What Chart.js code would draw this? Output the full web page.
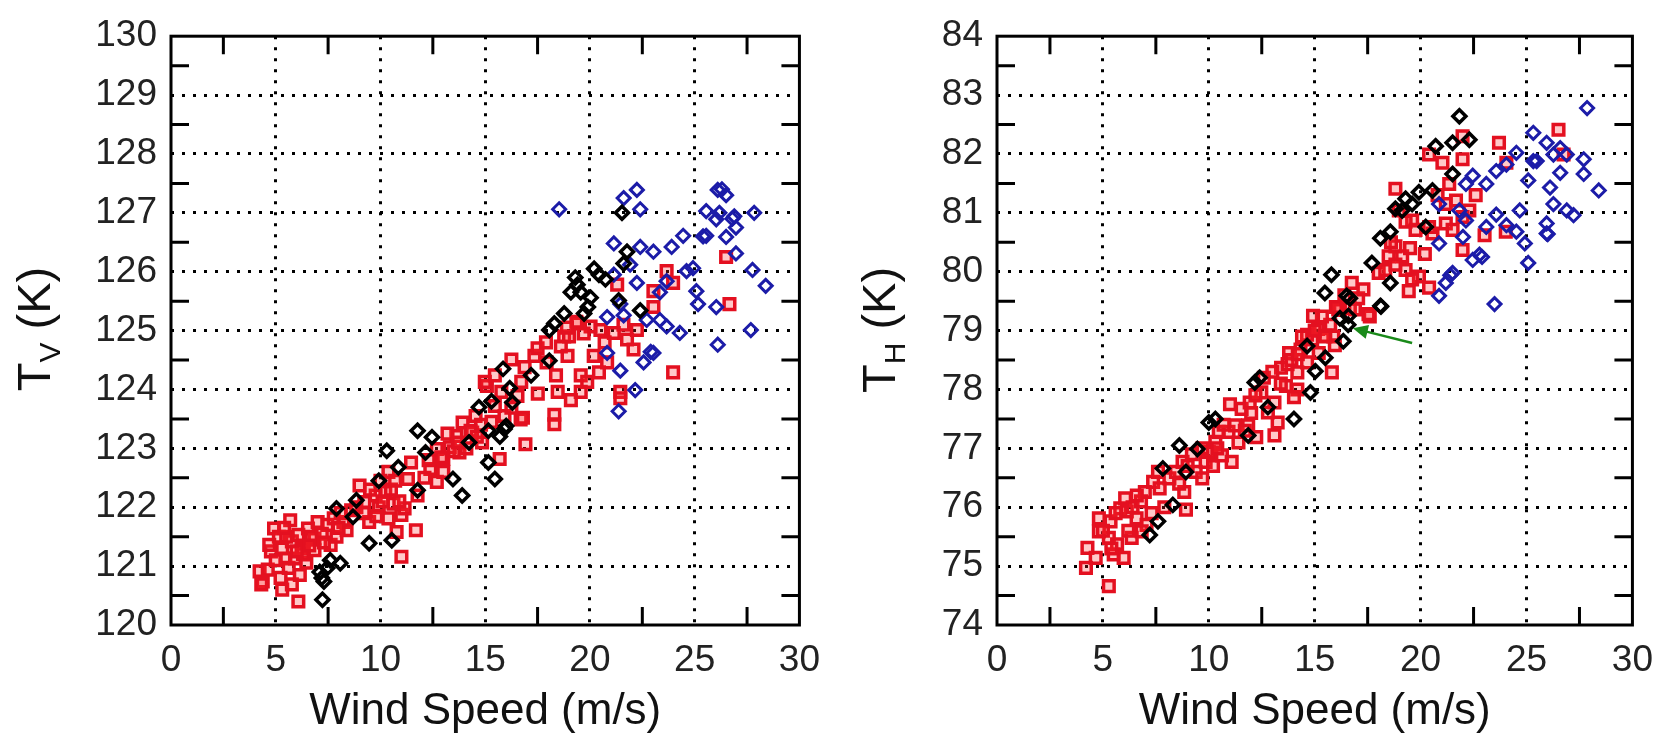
<!DOCTYPE html>
<html>
<head>
<meta charset="utf-8">
<title>Brightness temperature vs wind speed</title>
<script src="https://cdn.jsdelivr.net/npm/chart.js@4.4.0/dist/chart.umd.min.js"></script>
<style>
  html, body { margin:0; padding:0; background:#fff; }
  #wrap { position:relative; width:1667px; height:734px; overflow:hidden; }
  canvas { position:absolute; top:0; }
  #c1 { left:0; }
  #c2 { left:834px; }
  .ytitle { position:absolute; width:220px; height:60px; line-height:60px; text-align:center;
            font-family:"Liberation Sans", Arial, sans-serif; font-size:47px; color:#111;
            transform:rotate(-90deg); white-space:nowrap; }
  .ytitle sub { font-size:30px; vertical-align:-10px; line-height:0; }
</style>
</head>
<body>
<div id="wrap">
  <canvas id="c1" width="834" height="734"></canvas>
  <canvas id="c2" width="833" height="734"></canvas>
  <div class="ytitle" style="left:-76px; top:299px;">T<sub>V</sub> (K)</div>
  <div class="ytitle" style="left:769px; top:300px;">T<sub>H</sub> (K)</div>
</div>
<script>
// ---------- AXES ----------
const xTicks  = [0, 5, 10, 15, 20, 25, 30];
const xMarks  = [2.5, 7.5, 12.5, 17.5, 22.5, 27.5];
const tvTicks = [120, 121, 122, 123, 124, 125, 126, 127, 128, 129, 130];
const tvMarks = [120.5, 121.5, 122.5, 123.5, 124.5, 125.5, 126.5, 127.5, 128.5, 129.5];
const thTicks = [74, 75, 76, 77, 78, 79, 80, 81, 82, 83, 84];
const thMarks = [74.5, 75.5, 76.5, 77.5, 78.5, 79.5, 80.5, 81.5, 82.5, 83.5];

// ---------- LEFT PANEL (T_V) ----------
const tvBlack = [[7.23,120.43],[7.2,120.8],[7.3,120.74],[7.46,120.97],[8.08,121.05],[7.6,121.1],[7.1,120.9],
  [7.9,121.98],[9.46,121.39],[10.54,121.44],[10.3,122.96],[10.85,122.68],[11.77,123.3],[12.46,123.19],
  [12.15,122.93],[13.9,122.2],[15.15,122.76],[15.46,122.48],[15.92,123.33],[15.7,123.2],[14.7,123.7],
  [16.3,123.78],[9.92,122.45],[8.85,122.12],[8.69,121.84],[11.77,122.29],[13.46,122.48],[15.15,123.3],
  [14.23,123.1],[21.53,127.0],[21.77,126.34],[21.61,126.14],[20.43,125.95],[20.74,125.87],[19.4,125.78],
  [19.56,125.65],[20.03,125.56],[19.09,125.65],[18.77,125.29],[18.3,125.12],[18.06,125.01],[21.37,125.51],
  [22.4,125.34],[19.72,125.29],[18.06,124.49],[15.85,124.35],[17.19,124.24],[16.17,124.02],[15.3,123.8],
  [16.0,123.38],[19.3,125.9],[20.2,126.05],[19.9,125.4]];
const tvRed = [[4.23,120.91],[4.38,120.74],[4.31,120.69],[4.62,120.94],[4.92,121.64],[5.15,121.5],[5.69,121.78],
  [4.77,121.25],[5.31,121.3],[5.46,121.13],[5.77,121.42],[6.08,121.53],[6.23,121.3],[6.54,121.64],[6.85,121.47],
  [7.0,121.75],[7.46,121.7],[7.77,121.81],[8.23,121.75],[8.38,121.61],[5.62,120.97],[5.23,120.8],[5.31,120.6],
  [5.77,120.69],[6.08,120.4],[6.15,120.85],[5.92,121.13],[6.85,121.27],[7.62,121.36],[6.46,121.06],[4.69,121.36],
  [8.85,122.0],[9.23,122.09],[9.0,122.37],[9.77,122.2],[10.23,122.26],[10.62,122.06],[11.0,121.87],[11.15,121.98],
  [10.77,121.58],[11.69,121.61],[11.0,121.16],[10.38,122.6],[9.92,122.0],[11.31,122.48],[11.46,122.76],[11.77,122.2],
  [9.46,121.75],[10.38,121.81],[12.38,122.65],[12.69,122.43],[13.0,122.82],[13.31,123.02],[13.62,123.21],
  [13.92,123.44],[14.38,123.27],[14.54,123.55],[14.85,123.1],[15.46,123.72],[15.92,123.55],[16.69,123.49],
  [16.92,123.07],[15.69,122.82],[13.77,122.93],[13.0,122.6],[12.69,122.99],[16.54,123.89],[15.08,124.06],
  [16.25,124.51],[16.88,124.38],[17.35,124.57],[15.46,124.24],[14.98,124.13],[16.72,124.13],[17.51,123.93],
  [18.38,124.24],[18.46,123.96],[19.56,124.24],[19.87,124.13],[19.56,123.96],[19.09,123.82],[21.45,123.96],
  [21.45,123.85],[18.3,123.57],[18.3,123.41],[16.8,123.52],[18.61,124.73],[18.77,124.9],[19.4,125.12],
  [20.03,125.07],[20.5,125.01],[21.14,124.96],[21.77,124.85],[22.08,124.68],[22.24,125.01],[23.03,125.4],
  [20.18,124.57],[20.43,124.29],[20.82,124.46],[23.97,124.29],[19.35,125.15],[23.66,126.01],[23.03,125.67],
  [23.97,125.81],[26.5,126.25],[26.66,125.45],[21.3,125.78],[17.93,124.46],[18.93,124.57],[15.77,123.96],
  [16.25,123.69],[5.0,121.1],[5.5,121.5],[6.3,121.2],[6.7,121.5],[7.2,121.55],[7.9,121.5],[8.1,121.9],
  [8.6,121.95],[9.5,122.3],[10.0,122.45],[10.5,122.3],[10.9,122.1],[9.8,121.85],[12.1,122.5],[12.9,122.85],
  [13.5,122.95],[14.1,123.0],[14.3,123.3],[13.2,123.25],[14.8,123.4],[17.5,124.7],[19.0,124.9],[20.7,124.8],
  [21.6,125.1],[5.4,121.65],[6.0,121.25],[6.6,121.35],[7.3,121.4],[8.0,121.65],[9.2,121.9],[10.1,122.1],
  [10.7,122.45],[12.3,122.8],[13.7,123.1],[14.6,123.2],[15.3,123.45],[17.9,124.8],[18.9,125.05],[19.7,124.95]];
const tvBlue = [[18.53,127.06],[21.61,127.25],[22.24,127.39],[22.4,127.06],[26.1,127.39],[26.5,127.3],[25.55,127.03],
  [26.03,126.89],[26.18,127.0],[26.89,126.94],[26.97,126.75],[26.5,126.59],[27.84,127.0],[24.45,126.61],
  [25.55,126.61],[21.14,126.48],[22.4,126.42],[23.03,126.34],[23.9,126.42],[26.97,126.31],[24.61,126.01],
  [24.92,126.06],[27.76,126.03],[28.39,125.76],[25.08,125.67],[25.16,125.45],[26.03,125.4],[22.24,125.81],
  [23.34,125.65],[23.66,125.84],[21.61,125.26],[20.82,125.23],[21.45,125.45],[22.71,125.18],[23.34,125.18],
  [24.29,124.96],[23.66,125.07],[27.68,125.01],[26.1,124.76],[20.82,124.62],[21.45,124.32],[22.56,124.46],
  [23.03,124.62],[22.16,123.99],[21.37,123.63],[21.92,126.12],[21.14,125.95],[26.3,127.4],[26.8,126.9],
  [22.9,124.64],[25.4,126.6]];

// ---------- RIGHT PANEL (T_H) ----------
const thBlack = [[7.21,75.53],[7.6,75.76],[7.83,76.66],[8.3,76.04],[8.61,77.05],[9.46,76.99],[10.0,77.44],
  [10.31,77.5],[12.17,78.12],[12.4,78.2],[11.86,77.22],[14.02,77.5],[14.8,77.95],[15.03,78.31],[15.5,78.54],
  [16.35,78.82],[16.58,79.1],[16.19,79.21],[16.66,79.55],[18.13,79.41],[8.92,76.6],[12.79,77.7],[14.64,78.74],
  [21.83,82.64],[20.71,82.13],[21.51,82.19],[22.3,82.24],[21.51,81.66],[19.92,81.35],[20.56,81.38],[19.29,81.24],
  [18.81,81.07],[18.57,80.68],[18.1,80.57],[17.7,80.15],[18.57,79.81],[15.79,79.95],[16.51,79.59],[18.1,79.42],
  [16.59,79.25],[15.48,79.64],[20.24,80.76],[19.6,81.15],[19.13,81.04]];
const thRed = [[4.27,75.31],[4.2,74.97],[4.66,75.14],[5.28,74.66],[4.81,75.81],[4.81,75.59],[5.28,75.48],
  [5.67,75.37],[5.36,75.76],[5.82,75.98],[6.05,76.15],[6.13,75.93],[6.59,75.81],[7.06,75.7],[5.51,75.2],
  [5.98,75.14],[6.36,75.48],[6.83,75.59],[6.98,76.26],[7.37,76.43],[7.68,76.32],[8.14,76.49],[8.45,76.6],
  [8.84,76.26],[8.92,75.96],[8.76,76.77],[9.38,76.6],[9.85,76.77],[10.0,76.94],[10.31,77.11],[10.62,76.88],
  [11.08,76.77],[10.93,77.28],[11.24,77.39],[11.86,77.39],[12.24,77.19],[11.0,77.75],[11.55,77.67],[11.93,77.78],
  [12.48,77.95],[12.79,77.61],[13.1,77.78],[13.25,77.44],[13.1,77.22],[13.64,78.06],[13.41,78.37],[13.72,78.43],
  [14.18,78.29],[14.64,78.46],[14.18,78.0],[14.02,77.87],[13.79,78.62],[14.33,78.68],[14.88,78.85],[14.64,78.93],
  [15.26,79.04],[15.73,79.1],[15.88,78.9],[15.34,79.24],[16.19,79.35],[16.66,79.38],[17.05,79.55],[17.6,79.24],
  [15.81,78.29],[15.19,78.62],[10.47,77.28],[9.69,76.49],[26.51,82.41],[23.7,82.19],[21.98,82.3],[21.98,81.91],
  [21.03,81.85],[20.4,81.99],[18.81,81.41],[24.05,81.85],[21.35,81.49],[21.19,81.15],[21.67,81.21],[22.3,81.04],
  [21.98,80.93],[21.19,80.82],[21.51,80.71],[20.56,80.65],[20.4,80.76],[19.76,80.71],[19.6,80.87],[19.29,80.85],
  [18.97,81.04],[23.02,80.62],[24.02,80.68],[26.75,81.99],[21.98,80.37],[18.81,80.43],[18.49,80.26],[19.13,80.26],
  [18.81,80.12],[19.29,80.03],[19.92,79.92],[18.02,79.98],[18.33,80.03],[19.6,79.87],[19.44,79.67],[20.4,79.73],
  [16.75,79.81],[17.3,79.7],[17.54,79.28],[16.11,79.36],[16.9,79.36],[15.16,79.03],[14.92,79.25],[15.48,78.91],
  [15.95,78.75],[6.4,76.0],[6.8,76.1],[7.3,75.9],[7.9,76.0],[8.6,76.4],[9.2,76.9],[9.7,77.0],[10.2,76.7],
  [10.7,77.4],[11.4,77.1],[12.0,77.6],[12.6,78.2],[13.4,78.1],[13.9,78.5],[14.4,78.9],[15.0,79.0],[15.5,78.9],
  [16.0,79.4],[16.4,79.6],[5.0,75.6],[5.6,75.9],[6.2,75.6],[5.4,75.3],[6.6,76.2],[7.6,76.6],[9.0,76.7],
  [10.4,77.0],[11.7,77.3],[12.2,77.9],[13.0,78.3],[14.2,78.6],[18.6,80.5],[19.5,80.4],[20.2,80.3],[20.8,81.3],
  [22.6,81.3]];
const thBlue = [[27.86,82.78],[25.32,82.36],[25.95,82.19],[26.59,82.1],[26.27,81.99],[25.48,81.88],[26.9,81.99],
  [24.52,82.02],[24.05,81.82],[27.7,81.91],[27.7,81.66],[28.41,81.38],[26.59,81.68],[25.08,81.55],[26.11,81.43],
  [26.27,81.15],[26.9,81.04],[27.22,80.96],[25.95,80.82],[25.95,80.65],[24.92,80.48],[25.08,80.15],[23.57,81.71],
  [23.1,81.49],[22.46,81.63],[22.14,81.49],[23.57,80.97],[24.05,80.79],[24.52,80.68],[23.1,80.76],[22.0,80.59],
  [22.78,80.29],[22.46,80.2],[21.51,79.98],[21.19,79.81],[20.87,79.59],[23.49,79.45],[21.83,81.04],[22.14,80.87],
  [20.87,81.15],[20.87,80.48],[24.68,81.04],[25.32,81.88],[26.0,80.64],[22.9,80.25],[21.4,79.94]];

// green arrow (tail -> tip), right panel
const arrowFrom = [19.6, 78.79];
const arrowTo   = [16.8, 79.04];

// ---------- HELPERS ----------
const FONT = '"Liberation Sans", Arial, sans-serif';
Chart.defaults.font.family = FONT;

const toPts = arr => arr.map(p => ({x: p[0], y: p[1]}));

const framePlugin = {
  id: 'frame',
  afterDraw(chart, args, opts) {
    const {ctx, chartArea: a} = chart;
    const x = chart.scales.x, y = chart.scales.y;
    ctx.save();
    ctx.strokeStyle = '#000';
    ctx.lineWidth = 3;
    ctx.strokeRect(a.left, a.top, a.right - a.left, a.bottom - a.top);
    ctx.beginPath();
    xMarks.forEach(v => {
      const px = x.getPixelForValue(v);
      ctx.moveTo(px, a.bottom); ctx.lineTo(px, a.bottom - 18);
      ctx.moveTo(px, a.top);    ctx.lineTo(px, a.top + 18);
    });
    opts.yMarks.forEach(v => {
      const py = y.getPixelForValue(v);
      ctx.moveTo(a.left, py);  ctx.lineTo(a.left + 18, py);
      ctx.moveTo(a.right, py); ctx.lineTo(a.right - 18, py);
    });
    ctx.stroke();

    if (opts.arrow) {
      const x0 = x.getPixelForValue(opts.arrow[0][0]), y0 = y.getPixelForValue(opts.arrow[0][1]);
      const x1 = x.getPixelForValue(opts.arrow[1][0]), y1 = y.getPixelForValue(opts.arrow[1][1]);
      const ang = Math.atan2(y1 - y0, x1 - x0);
      ctx.strokeStyle = '#1a8a1a'; ctx.fillStyle = '#1a8a1a'; ctx.lineWidth = 2.5;
      ctx.beginPath(); ctx.moveTo(x0, y0);
      ctx.lineTo(x1 - 12 * Math.cos(ang), y1 - 12 * Math.sin(ang)); ctx.stroke();
      ctx.beginPath(); ctx.moveTo(x1, y1);
      ctx.lineTo(x1 - 15 * Math.cos(ang) + 7 * Math.sin(ang), y1 - 15 * Math.sin(ang) - 7 * Math.cos(ang));
      ctx.lineTo(x1 - 15 * Math.cos(ang) - 7 * Math.sin(ang), y1 - 15 * Math.sin(ang) + 7 * Math.cos(ang));
      ctx.closePath(); ctx.fill();
    }
    ctx.restore();
  }
};

function makePanel(id, padRight, yWidth, black, blue, red, yTicks, yMarks, arrow) {
  const yMin = yTicks[0], yMax = yTicks[yTicks.length - 1];
  return new Chart(document.getElementById(id), {
    type: 'scatter',
    data: {
      datasets: [
        {data: toPts(black), pointStyle: 'rectRot', pointRadius: 6.5, borderColor: '#000', borderWidth: 3.5,
         backgroundColor: 'rgba(0,0,0,0)'},
        {data: toPts(blue), pointStyle: 'rectRot', pointRadius: 6.5, borderColor: '#1c1ca8', borderWidth: 3,
         backgroundColor: 'rgba(0,0,0,0)'},
        {data: toPts(red), pointStyle: 'rect', pointRadius: 7.5, borderColor: '#e41020', borderWidth: 3.5,
         backgroundColor: 'rgba(255,40,40,0.25)'}
      ]
    },
    options: {
      responsive: false,
      animation: false,
      devicePixelRatio: 1,
      events: [],
      layout: {padding: {left: 0, top: 30, right: padRight, bottom: 0}},
      plugins: {
        legend: {display: false},
        tooltip: {enabled: false},
        frame: {yMarks: yMarks, arrow: arrow}
      },
      scales: {
        x: {
          type: 'linear', min: 0, max: 30,
          afterBuildTicks: s => { s.ticks = xTicks.map(v => ({value: v})); },
          afterFit: s => { s.height = 109; },
          ticks: {autoSkip: false, maxRotation: 0, padding: 14, color: '#222',
                  font: {size: 37}},
          grid: {drawTicks: false, lineWidth: 3,
                 color: c => (c.tick && c.tick.value > 0 && c.tick.value < 30) ? '#000' : 'rgba(0,0,0,0)'},
          border: {display: false, dash: [3, 8]},
          title: {display: true, text: 'Wind Speed (m/s)', color: '#111',
                  font: {size: 44, lineHeight: 1}, padding: {top: 0, bottom: 0}}
        },
        y: {
          type: 'linear', min: yMin, max: yMax,
          afterBuildTicks: s => { s.ticks = yTicks.map(v => ({value: v})); },
          afterFit: s => { s.width = yWidth; },
          ticks: {autoSkip: false, padding: 14, color: '#222', font: {size: 37}},
          grid: {drawTicks: false, lineWidth: 3,
                 color: c => (c.tick && c.tick.value > yMin && c.tick.value < yMax) ? '#000' : 'rgba(0,0,0,0)'},
          border: {display: false, dash: [3, 8]}
        }
      }
    },
    plugins: [framePlugin]
  });
}

makePanel('c1', 21, 171, tvBlack, tvBlue, tvRed, tvTicks, tvMarks, null);
makePanel('c2', 28, 163, thBlack, thBlue, thRed, thTicks, thMarks, [arrowFrom, arrowTo]);
</script>
</body>
</html>
